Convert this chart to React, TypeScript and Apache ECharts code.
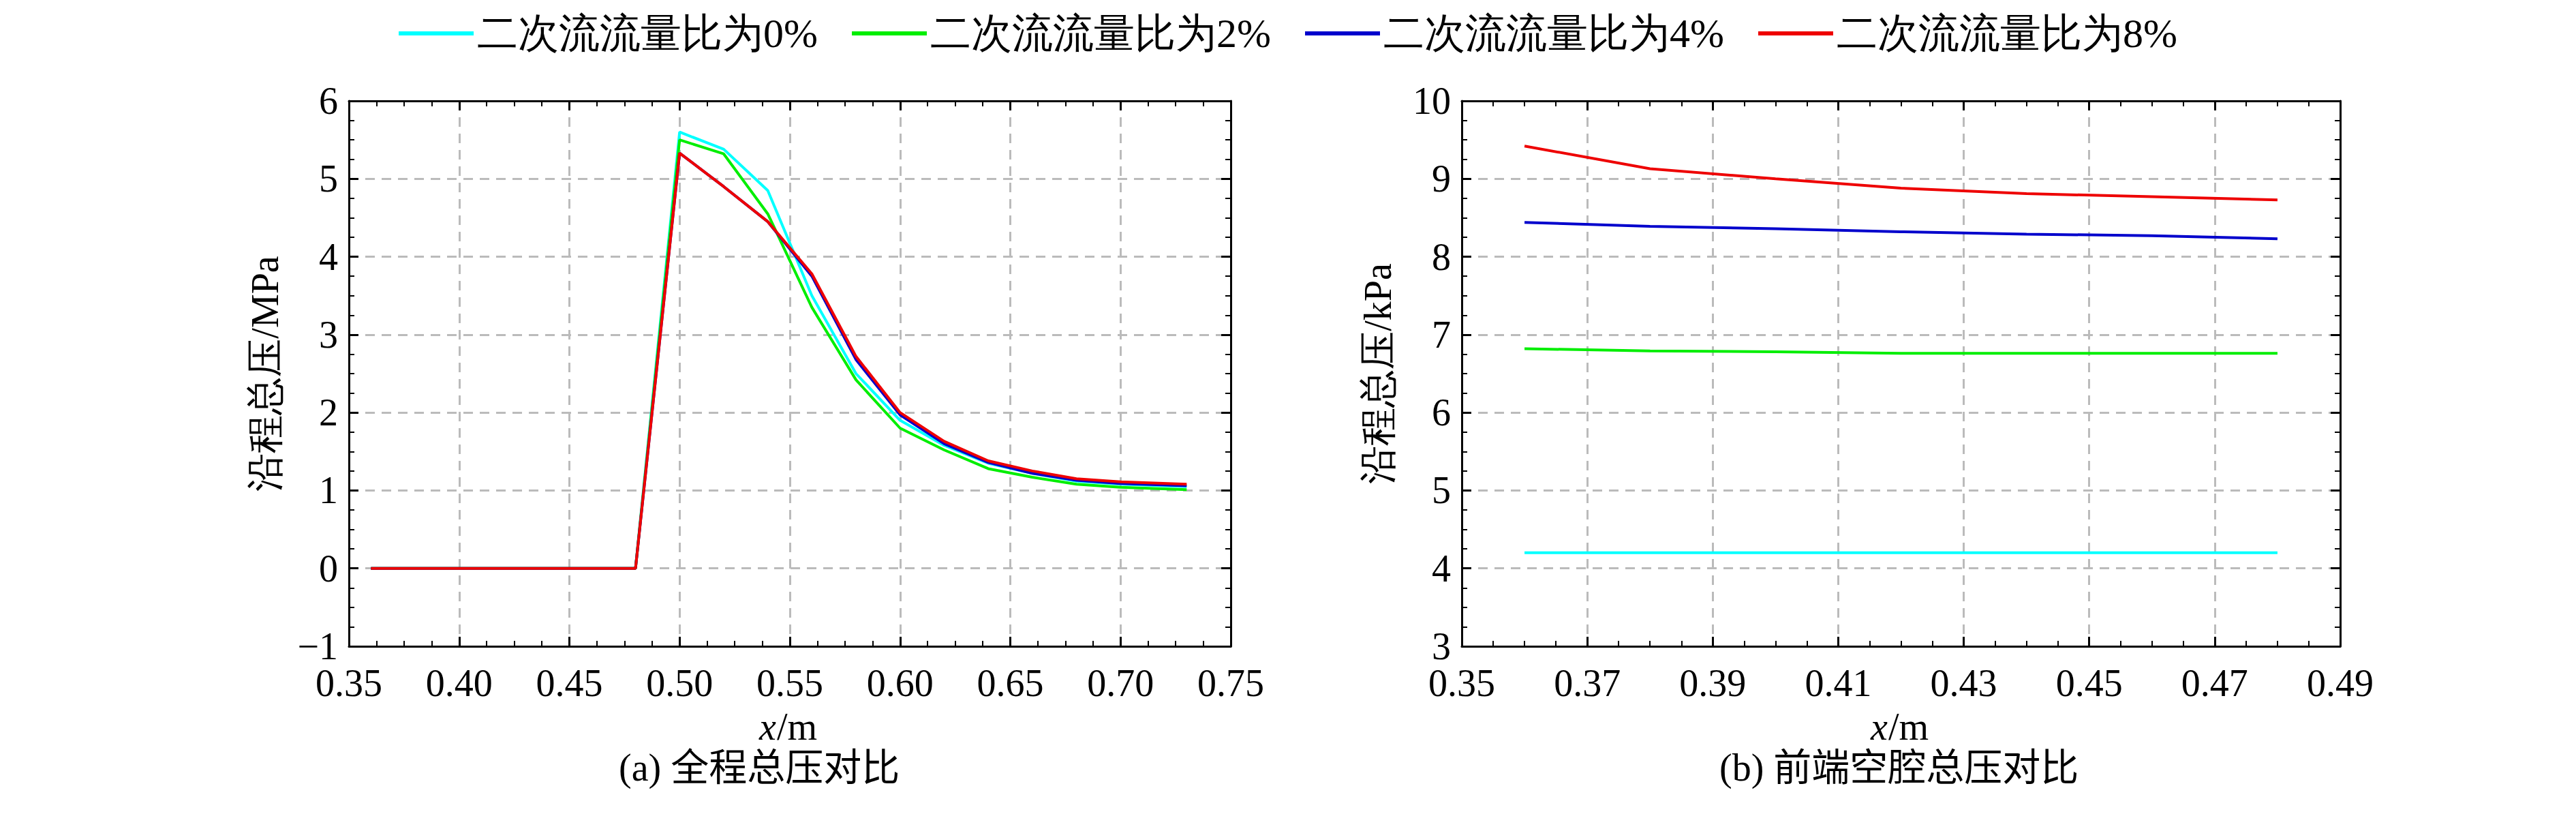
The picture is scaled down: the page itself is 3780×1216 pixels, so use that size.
import { useEffect, useRef } from "react";
import * as echarts from "echarts";

const NAMES = ["二次流流量比为0%", "二次流流量比为2%", "二次流流量比为4%", "二次流流量比为8%"];
const COLORS = ["#00ffff", "#00ee00", "#0000cc", "#ee0000"];

const X_A = [0.36, 0.38, 0.40, 0.42, 0.44, 0.46, 0.48, 0.50, 0.52, 0.54, 0.56, 0.58, 0.60, 0.62, 0.64, 0.66, 0.68, 0.70, 0.73];
const A0 = [0, 0, 0, 0, 0, 0, 0, 5.6, 5.38, 4.85, 3.5, 2.5, 1.9, 1.58, 1.35, 1.22, 1.12, 1.08, 1.05];
const A2 = [0, 0, 0, 0, 0, 0, 0, 5.5, 5.32, 4.55, 3.35, 2.42, 1.8, 1.52, 1.28, 1.17, 1.08, 1.04, 1.01];
const A4 = [0, 0, 0, 0, 0, 0, 0, 5.33, 4.9, 4.45, 3.75, 2.68, 1.97, 1.6, 1.36, 1.22, 1.13, 1.09, 1.06];
const A8 = [0, 0, 0, 0, 0, 0, 0, 5.33, 4.9, 4.45, 3.78, 2.72, 2.0, 1.63, 1.38, 1.25, 1.15, 1.11, 1.08];

const X_B = [0.36, 0.38, 0.40, 0.42, 0.44, 0.46, 0.48];
const B0 = [4.2, 4.2, 4.2, 4.2, 4.2, 4.2, 4.2];
const B2 = [6.82, 6.79, 6.78, 6.76, 6.76, 6.76, 6.76];
const B4 = [8.44, 8.39, 8.36, 8.32, 8.29, 8.27, 8.23];
const B8 = [9.42, 9.13, 9.0, 8.88, 8.81, 8.77, 8.73];

const FONT = "Liberation Serif";
const FS = 56;

function axisPair(kind: "x" | "y", min: number, max: number, interval: number, name: string, fmt: (v: number) => string) {
  const common = {
    type: "value" as const, min, max, interval,
    axisLine: { show: true, onZero: false, lineStyle: { color: "#000", width: 3 } },
    axisTick: { show: true, inside: true, length: 14, lineStyle: { color: "#000", width: 3 } },
    minorTick: { show: true, splitNumber: 4, length: 8, lineStyle: { color: "#000", width: 2 } },
  };
  const main = {
    ...common,
    position: kind === "x" ? "bottom" : "left",
    name,
    nameLocation: "middle",
    nameGap: kind === "x" ? 100 : 95,
    nameTextStyle: { fontFamily: FONT, fontSize: FS, color: "#000" },
    axisLabel: { fontFamily: FONT, fontSize: FS, color: "#000", margin: kind === "x" ? 26 : 16, formatter: fmt },
    splitLine: { show: true, lineStyle: { color: "#bbb", type: [14, 10], width: 3 } },
  };
  const mirror = {
    ...common,
    position: kind === "x" ? "top" : "right",
    axisLabel: { show: false },
    splitLine: { show: false },
  };
  return [main, mirror];
}

function toPairs(xs: number[], ys: number[]) {
  return xs.map((x, i) => [x, ys[i]]);
}

export default function App() {
  const ref = useRef<HTMLDivElement>(null);
  useEffect(() => {
    if (!ref.current) return;
    const chart = echarts.init(ref.current, undefined, { renderer: "svg" });
    const xA = axisPair("x", 0.35, 0.75, 0.05, "", (v) => v.toFixed(2));
    const xB = axisPair("x", 0.35, 0.49, 0.02, "", (v) => v.toFixed(2));
    const yA = axisPair("y", -1, 6, 1, "沿程总压/MPa", (v) => (v < 0 ? "\u22121" : String(v)));
    const yB = axisPair("y", 3, 10, 1, "沿程总压/kPa", (v) => String(v));
    const dataA = [A0, A2, A4, A8];
    const dataB = [B0, B2, B4, B8];
    const series: any[] = [];
    dataA.forEach((d, i) => series.push({
      name: NAMES[i], type: "line", xAxisIndex: 0, yAxisIndex: 0, data: toPairs(X_A, d),
      showSymbol: false, lineStyle: { color: COLORS[i], width: 4 }, itemStyle: { color: COLORS[i] },
    }));
    dataB.forEach((d, i) => series.push({
      name: NAMES[i], type: "line", xAxisIndex: 2, yAxisIndex: 2, data: toPairs(X_B, d),
      showSymbol: false, lineStyle: { color: COLORS[i], width: 4 }, itemStyle: { color: COLORS[i] },
    }));
    chart.setOption({
      animation: false,
      backgroundColor: "#fff",
      legend: {
        top: 6, left: "center", itemWidth: 110, itemHeight: 6, itemGap: 50,
        icon: "rect",
        textStyle: { fontFamily: FONT, fontSize: 60, color: "#000" },
        data: NAMES,
      },
      grid: [
        { left: 504, top: 140, width: 1294, height: 800 },
        { left: 2137, top: 140, width: 1289, height: 800 },
      ],
      xAxis: [xA[0], xA[1], xB[0], xB[1]].map((a: any, i) => ({ ...a, gridIndex: i < 2 ? 0 : 1 })),
      yAxis: [yA[0], yA[1], yB[0], yB[1]].map((a: any, i) => ({ ...a, gridIndex: i < 2 ? 0 : 1 })),
      series,
      graphic: [
        { type: "text", left: 1106, top: 1030, style: { text: "x", font: `italic ${FS}px '${FONT}'`, fill: "#000" } },
        { type: "text", left: 1132, top: 1030, style: { text: "/m", font: `${FS}px '${FONT}'`, fill: "#000" } },
        { type: "text", left: 2737, top: 1030, style: { text: "x", font: `italic ${FS}px '${FONT}'`, fill: "#000" } },
        { type: "text", left: 2763, top: 1030, style: { text: "/m", font: `${FS}px '${FONT}'`, fill: "#000" } },
        { type: "text", left: 900, top: 1090, style: { text: "(a) 全程总压对比", font: `${FS}px '${FONT}', 'Noto Sans CJK SC'`, fill: "#000" } },
        { type: "text", left: 2515, top: 1090, style: { text: "(b) 前端空腔总压对比", font: `${FS}px '${FONT}', 'Noto Sans CJK SC'`, fill: "#000" } },
      ],
    });
    return () => chart.dispose();
  }, []);
  return <div ref={ref} style={{ width: 3764, height: 1200 }} />;
}
